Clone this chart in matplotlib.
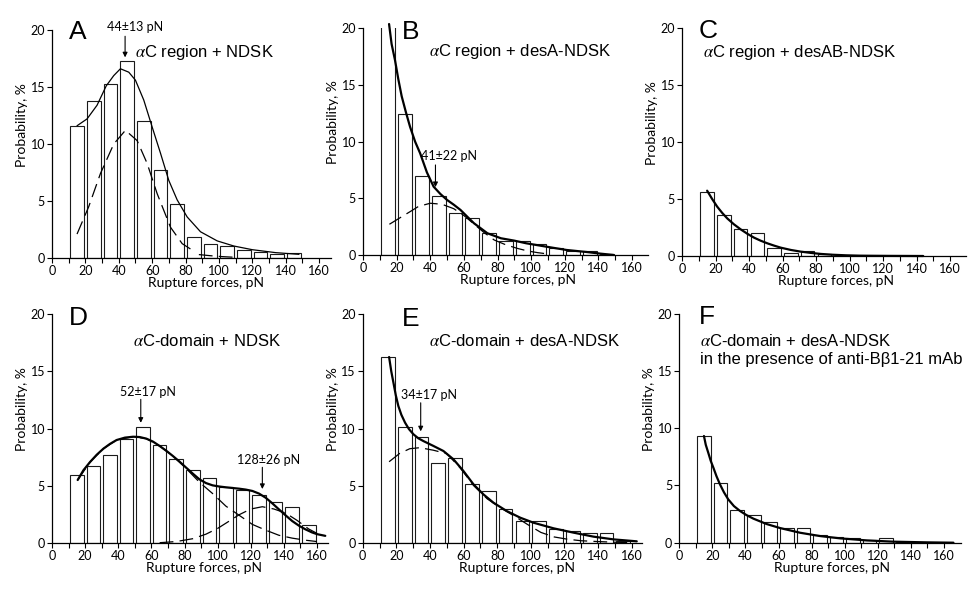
import matplotlib.pyplot as plt

plt.rcParams['mathtext.fontset'] = 'stix'

# rupture force histograms, bin centres in pN
centers = [15, 25, 35, 45, 55, 65, 75, 85, 95, 105, 115, 125, 135, 145, 155]

# A: aC region + NDSK
a_bars = [11.6, 13.8, 15.3, 17.3, 12.0, 7.7, 4.7, 1.8, 1.2, 1.05, 0.67, 0.5, 0.38, 0.41]
a_fit_x = [15, 21, 27, 32.5, 37, 41, 46, 50, 55, 60, 65, 70, 75, 81, 89, 99, 109, 120, 134, 148]
a_fit_y = [11.6, 12.2, 13.4, 15.1, 16.0, 16.6, 16.3, 15.6, 13.85, 11.5, 9.2, 6.8, 5.1, 3.6, 2.3, 1.5, 1.05, 0.73, 0.47, 0.32]
a_peak_x = [15, 22, 29, 37, 44, 51, 57, 63, 71, 78, 85]
a_peak_y = [2.1, 4.5, 7.4, 10.0, 11.2, 10.3, 8.3, 5.65, 2.7, 1.26, 0.6]
a_tail_x = [88, 95, 102, 110]
a_tail_y = [0.3, 0.2, 0.12, 0.06]

# B: aC region + desA-NDSK
b_bars = [24.0, 12.4, 7.0, 5.2, 3.7, 3.3, 2.0, 1.29, 1.29, 0.97, 0.67, 0.38, 0.38, 0.11]
b_fit_x = [15.5, 17, 19, 21, 23, 25.5, 28, 31, 34, 38, 42, 46, 50, 54, 58, 62, 66, 70, 74, 82, 90, 97, 109, 121, 133, 141, 149]
b_fit_y = [20.35, 18.6, 17.2, 15.5, 14.0, 12.6, 11.3, 10.0, 8.97, 7.3, 6.04, 5.4, 4.87, 4.45, 3.99, 3.4, 2.82, 2.38, 1.94, 1.5, 1.29, 1.06, 0.76, 0.47, 0.29, 0.15, 0.03]
b_peak_x = [15.7, 22, 28, 33, 40, 47, 54, 60, 66, 72, 78, 85, 92, 98, 104, 110]
b_peak_y = [2.73, 3.3, 3.84, 4.3, 4.58, 4.49, 4.1, 3.5, 2.75, 2.0, 1.35, 0.92, 0.6, 0.38, 0.23, 0.12]

# C: aC region + desAB-NDSK
c_bars = [5.64, 3.57, 2.34, 1.99, 0.67, 0.23, 0.44, 0.15]
c_fit_x = [15, 18, 21, 24, 27, 31, 35, 39, 43, 47, 51, 55, 59, 65, 71, 77, 83, 90, 98, 106, 114, 125, 144]
c_fit_y = [5.73, 5.0, 4.33, 3.78, 3.30, 2.78, 2.34, 1.95, 1.61, 1.34, 1.11, 0.91, 0.73, 0.53, 0.38, 0.27, 0.18, 0.11, 0.06, 0.03, 0.02, 0.01, 0.0]

# D: aC-domain + NDSK
d_bars = [5.93, 6.7, 7.65, 9.1, 10.16, 8.53, 7.36, 6.34, 5.69, 4.9, 4.61, 4.2, 3.56, 3.1, 1.52]
d_fit_x = [15.5, 19, 23, 27, 31, 35, 39, 44, 49, 53, 57, 61, 65, 69, 73, 77, 81, 85, 89, 93, 97, 101, 105, 109, 113, 117, 121, 125, 129, 133, 137, 141, 145, 149, 153, 157, 160, 165]
d_fit_y = [5.49, 6.35, 7.07, 7.7, 8.23, 8.65, 8.99, 9.2, 9.28, 9.25, 9.11, 8.85, 8.47, 8.05, 7.59, 7.1, 6.57, 6.05, 5.55, 5.22, 5.02, 4.92, 4.85, 4.79, 4.73, 4.65, 4.53, 4.3, 3.94, 3.45, 2.92, 2.4, 1.9, 1.5, 1.17, 0.9, 0.75, 0.6]
d_peak1_x = [15.5, 23, 31, 39, 49, 57, 65, 73, 81, 89, 97, 105, 113, 121, 129, 137, 145, 153, 160]
d_peak1_y = [5.49, 7.07, 8.23, 8.99, 9.28, 9.11, 8.47, 7.59, 6.5, 5.3, 4.3, 3.2, 2.4, 1.6, 1.1, 0.65, 0.4, 0.22, 0.1]
d_peak2_x = [65, 75, 85, 93, 100, 106, 113, 120, 127, 134, 141, 148, 155, 160]
d_peak2_y = [0.0, 0.1, 0.35, 0.75, 1.25, 1.8, 2.45, 2.95, 3.15, 2.95, 2.6, 1.95, 1.2, 0.82]

# E: aC-domain + desA-NDSK
e_bars = [16.26, 10.16, 9.28, 6.95, 7.42, 5.17, 4.5, 2.92, 1.9, 1.93, 1.17, 1.02, 0.82, 0.82, 0.15]
e_fit_x = [15.7, 17, 18.3, 19.7, 21.2, 23, 25.2, 27.5, 30.2, 33, 36.1, 42.1, 48, 54, 59.9, 65.9, 71.8, 77.8, 85.7, 93.7, 101.6, 113.5, 125.4, 137.3, 149.2, 163]
e_fit_y = [16.26, 15.0, 14.0, 12.9, 11.97, 11.2, 10.51, 9.95, 9.49, 9.15, 8.9, 8.47, 8.03, 7.3, 6.28, 5.11, 4.23, 3.5, 2.77, 2.19, 1.75, 1.26, 0.88, 0.53, 0.29, 0.12]
e_peak_x = [15.7, 22, 28, 34, 42, 50, 58, 66, 74, 82, 90, 98, 106, 114, 122, 130, 140, 150, 160]
e_peak_y = [7.09, 7.82, 8.23, 8.32, 8.1, 7.8, 6.55, 5.0, 3.85, 3.05, 2.35, 1.6, 0.9, 0.5, 0.3, 0.17, 0.1, 0.04, 0.01]

# F: aC-domain + desA-NDSK + anti-Bb1-21 mAb
f_bars = [9.32, 5.18, 2.85, 2.45, 1.83, 1.25, 1.31, 0.67, 0.52, 0.38, 0.23, 0.38, 0.1]
f_fit_x = [14.9, 16, 17.5, 19, 20.6, 22.5, 24.6, 27, 29.6, 33, 36.7, 40.5, 44.8, 52.8, 60.9, 73, 85.1, 97.2, 113.3, 129.4, 149.6, 165.7]
f_fit_y = [9.32, 8.55, 7.86, 7.15, 6.55, 5.8, 5.09, 4.4, 3.78, 3.2, 2.77, 2.42, 2.1, 1.63, 1.28, 0.87, 0.58, 0.38, 0.2, 0.09, 0.03, 0.0]

fig = plt.figure(figsize=(9.8, 5.96), dpi=100)
TICKFONT = 'Lato'
TITLEFONT = 'Liberation Sans'


def make_axes(x0, x160, y0, y20, xmax):
    # pixel positions of the x=0 / x=160 and y=0 / y=20 points
    ppx = (x160 - x0) / 160.0
    w = ppx * xmax
    h = y0 - y20
    ax = fig.add_axes([x0 / 980, (596 - y0) / 596, w / 980, h / 596])
    ax.set_xlim(0, xmax)
    ax.set_ylim(0, 20)
    for s in ['top', 'right']:
        ax.spines[s].set_visible(False)
    for s in ['left', 'bottom']:
        ax.spines[s].set_linewidth(0.9)
    ax.set_xticks(range(0, 161, 20))
    ax.set_xticks(range(10, 161, 20), minor=True)
    ax.set_yticks([0, 5, 10, 15, 20])
    ax.tick_params(which='both', direction='out', length=3.5, width=0.8, pad=1.5,
                   labelsize=9)
    for lab in ax.get_xticklabels() + ax.get_yticklabels():
        lab.set_family(TICKFONT)
    ax.text(-30 / w, 0.585, 'Probability, %', rotation=90, ha='center', va='center',
            transform=ax.transAxes, fontsize=10, family=TICKFONT)
    ax.text(92, -25 / h * 20, 'Rupture forces, pN', ha='center', va='center',
            fontsize=10, family=TICKFONT, clip_on=False)
    return ax


def draw_bars(ax, vals):
    ax.bar(centers[:len(vals)], vals, width=8.2, facecolor='white',
           edgecolor='#1a1a1a', linewidth=0.8, zorder=2)


def fit(ax, x, y, lw=1.6):
    ax.plot(x, y, color='black', lw=lw, zorder=4, clip_on=False, solid_capstyle='round')


def comp(ax, x, y):
    ax.plot(x, y, color='black', lw=0.9, dashes=(11, 5), zorder=3)


def letter(ax, x, y, s):
    ax.text(x, y, s, fontsize=19, family=TITLEFONT, ha='left', va='baseline', clip_on=False)


def title(ax, x, y, s):
    ax.text(x, y, s, fontsize=12, family=TITLEFONT, ha='left', va='baseline', clip_on=False)


def peak_note(ax, x, xt, yt, ytail, ytip, s):
    ax.text(xt, yt, s, fontsize=9, family=TICKFONT, ha='center', va='baseline', clip_on=False)
    ax.annotate('', xy=(x, ytip), xytext=(x, ytail),
                arrowprops=dict(arrowstyle='-|>', lw=0.8, color='black',
                                mutation_scale=7, shrinkA=0, shrinkB=0))


# A
ax = make_axes(52, 319, 258, 30, 167)
draw_bars(ax, a_bars)
fit(ax, a_fit_x, a_fit_y, lw=0.9)
comp(ax, a_peak_x, a_peak_y)
comp(ax, a_tail_x, a_tail_y)
letter(ax, 10, 19.2, 'A')
title(ax, 50, 17.6, r'$\alpha$C region + NDSK')
peak_note(ax, 43.8, 49.8, 19.9, 19.45, 17.6, '44\u00b113 pN')

# B
ax = make_axes(363, 632, 255.3, 28, 169.5)
draw_bars(ax, b_bars)
fit(ax, b_fit_x, b_fit_y)
comp(ax, b_peak_x, b_peak_y)
letter(ax, 23, 19.0, 'B')
title(ax, 39.5, 17.5, r'$\alpha$C region + desA-NDSK')
peak_note(ax, 43.1, 51, 8.35, 7.95, 6.0, '41\u00b122 pN')

# C
ax = make_axes(682, 950, 256, 28, 169.5)
draw_bars(ax, c_bars)
fit(ax, c_fit_x, c_fit_y)
letter(ax, 10, 19.1, 'C')
title(ax, 12.5, 17.5, r'$\alpha$C region + desAB-NDSK')

# D
ax = make_axes(52, 317, 542.7, 314.3, 166.7)
draw_bars(ax, d_bars)
comp(ax, d_peak1_x, d_peak1_y)
comp(ax, d_peak2_x, d_peak2_y)
fit(ax, d_fit_x, d_fit_y)
letter(ax, 10.4, 19.1, 'D')
title(ax, 49, 17.2, r'$\alpha$C-domain + NDSK')
peak_note(ax, 53.6, 58, 12.85, 12.55, 10.5, '52\u00b117 pN')
peak_note(ax, 127, 130.5, 6.9, 6.6, 4.7, '128\u00b126 pN')

# E
ax = make_axes(362.7, 631.7, 542.7, 314.3, 166)
draw_bars(ax, e_bars)
comp(ax, e_peak_x, e_peak_y)
fit(ax, e_fit_x, e_fit_y)
letter(ax, 23.2, 19.0, 'E')
title(ax, 39.7, 17.2, r'$\alpha$C-domain + desA-NDSK')
peak_note(ax, 34.5, 39.6, 12.55, 12.25, 9.75, '34\u00b117 pN')

# F
ax = make_axes(679.3, 944, 542.7, 313.7, 170)
draw_bars(ax, f_bars)
fit(ax, f_fit_x, f_fit_y)
letter(ax, 12, 19.1, 'F')
title(ax, 12.5, 17.2, r'$\alpha$C-domain + desA-NDSK')
title(ax, 12.5, 15.6, 'in the presence of anti-B\u03b21-21 mAb')

fig.savefig('out.png', dpi=100)
